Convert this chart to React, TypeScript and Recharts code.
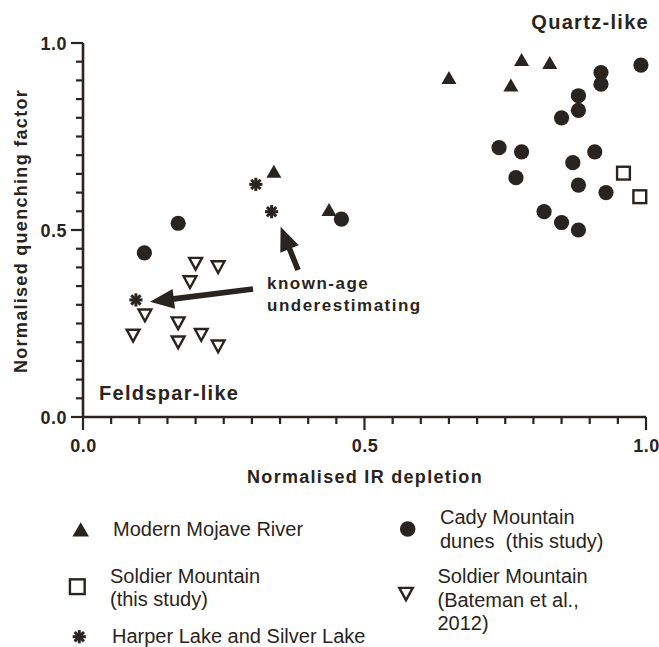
import React from "react";
import { ScatterChart, Scatter, XAxis, YAxis, ReferenceLine } from "recharts";

const INK = "#2a2420";
const FONT = "'Liberation Sans', Arial, sans-serif";

// tick positions (minor every 0.05, labelled at 0, 0.5, 1)
const TICKS = [0, 0.05, 0.1, 0.15, 0.2, 0.25, 0.3, 0.35, 0.4, 0.45, 0.5, 0.55, 0.6, 0.65, 0.7, 0.75, 0.8, 0.85, 0.9, 0.95, 1];
const MAJOR = [0, 0.5, 1];
const TICK_LABELS = ["0.0", "0.5", "1.0"];

// series
const mojave = [
  { x: 0.339, y: 0.657 },
  { x: 0.437, y: 0.555 },
  { x: 0.65, y: 0.908 },
  { x: 0.76, y: 0.888 },
  { x: 0.779, y: 0.956 },
  { x: 0.829, y: 0.948 },
];

const cady = [
  { x: 0.991, y: 0.941 },
  { x: 0.92, y: 0.921 },
  { x: 0.92, y: 0.89 },
  { x: 0.88, y: 0.859 },
  { x: 0.88, y: 0.82 },
  { x: 0.85, y: 0.8 },
  { x: 0.739, y: 0.72 },
  { x: 0.779, y: 0.709 },
  { x: 0.909, y: 0.709 },
  { x: 0.87, y: 0.68 },
  { x: 0.769, y: 0.64 },
  { x: 0.88, y: 0.62 },
  { x: 0.929, y: 0.6 },
  { x: 0.819, y: 0.549 },
  { x: 0.85, y: 0.52 },
  { x: 0.88, y: 0.5 },
  { x: 0.459, y: 0.529 },
  { x: 0.109, y: 0.439 },
  { x: 0.169, y: 0.518 },
];

const soldierThis = [
  { x: 0.96, y: 0.652 },
  { x: 0.989, y: 0.589 },
];

const harper = [
  { x: 0.307, y: 0.622 },
  { x: 0.335, y: 0.549 },
  { x: 0.094, y: 0.313 },
];

const bateman = [
  { x: 0.2, y: 0.411 },
  { x: 0.24, y: 0.402 },
  { x: 0.19, y: 0.362 },
  { x: 0.11, y: 0.273 },
  { x: 0.169, y: 0.252 },
  { x: 0.089, y: 0.219 },
  { x: 0.169, y: 0.201 },
  { x: 0.21, y: 0.221 },
  { x: 0.24, y: 0.19 },
];

// annotation arrows, data coords [tail, tip]
const arrows = [
  [{ x: 0.302, y: 0.342 }, { x: 0.119, y: 0.308 }],
  [{ x: 0.382, y: 0.393 }, { x: 0.351, y: 0.509 }],
];

function TriUp({ cx, cy, s = 1 }: any) {
  const w = 7.5 * s, h = 6.5 * s;
  return <polygon points={`${cx},${cy - h} ${cx + w},${cy + h} ${cx - w},${cy + h}`} fill={INK} />;
}
function Dot({ cx, cy, s = 1 }: any) {
  return <circle cx={cx} cy={cy} r={7.6 * s} fill={INK} />;
}
function Box({ cx, cy, s = 1 }: any) {
  const h = 6.4 * s;
  return <rect x={cx - h} y={cy - h} width={2 * h} height={2 * h} fill="#fff" stroke={INK} strokeWidth={2.4} />;
}
function TriDown({ cx, cy, s = 1 }: any) {
  const w = 6.4 * s, h = 5.4 * s;
  return (
    <polygon
      points={`${cx - w},${cy - h} ${cx + w},${cy - h} ${cx},${cy + h + 1}`}
      fill="#fff"
      stroke={INK}
      strokeWidth={2.4}
      strokeLinejoin="miter"
    />
  );
}
function Star({ cx, cy, s = 1 }: any) {
  const r = 6.6 * s, d = r * 0.707;
  return (
    <g stroke={INK} strokeWidth={3}>
      <line x1={cx} y1={cy - r} x2={cx} y2={cy + r} />
      <line x1={cx - r} y1={cy} x2={cx + r} y2={cy} />
      <line x1={cx - d} y1={cy - d} x2={cx + d} y2={cy + d} />
      <line x1={cx - d} y1={cy + d} x2={cx + d} y2={cy - d} />
    </g>
  );
}

function Arrow(props: any) {
  const { x1, y1, x2, y2 } = props;
  const dx = x2 - x1, dy = y2 - y1;
  const len = Math.sqrt(dx * dx + dy * dy) || 1;
  const ux = dx / len, uy = dy / len;
  const px = -uy, py = ux;
  const head = 24, hw = 10, sw = 2.8;
  const bx = x2 - ux * head, by = y2 - uy * head;
  const pts = [
    [x1 + px * sw, y1 + py * sw],
    [bx + px * sw, by + py * sw],
    [bx + px * hw, by + py * hw],
    [x2, y2],
    [bx - px * hw, by - py * hw],
    [bx - px * sw, by - py * sw],
    [x1 - px * sw, y1 - py * sw],
  ];
  return <polygon points={pts.map((p) => p.join(",")).join(" ")} fill={INK} />;
}

function XTick({ x, y, payload }: any) {
  const i = MAJOR.indexOf(payload.value);
  return (
    <g>
      <line x1={x} y1={y} x2={x} y2={y + (i >= 0 ? 13 : 7)} stroke={INK} strokeWidth={2.2} />
      {i >= 0 && (
        <text x={x + 0.6} y={y + 35} textAnchor="middle" fontFamily={FONT} fontWeight="bold" fontSize={18} letterSpacing={0.5} fill={INK}>
          {TICK_LABELS[i]}
        </text>
      )}
    </g>
  );
}

function YTick({ x, y, payload }: any) {
  const i = MAJOR.indexOf(payload.value);
  return (
    <g>
      <line x1={x} y1={y} x2={x - (i >= 0 ? 12 : 7)} y2={y} stroke={INK} strokeWidth={2.2} />
      {i >= 0 && (
        <text x={x - 16} y={y + 7} textAnchor="end" fontFamily={FONT} fontWeight="bold" fontSize={18} letterSpacing={0.5} fill={INK}>
          {TICK_LABELS[i]}
        </text>
      )}
    </g>
  );
}

const bold = { fontFamily: FONT, fontWeight: "bold" as const, fill: INK };
const reg = { fontFamily: FONT, fontSize: 20, fill: INK, style: { whiteSpace: "pre" as const } };

export default function App() {
  return (
    <div style={{ position: "absolute", left: 0, top: 0, width: 659, height: 647, overflow: "hidden", background: "#fff" }}>
      <div style={{ position: "absolute", left: 0, top: 0 }}>
        <ScatterChart width={659} height={460} margin={{ top: 43, right: 13, bottom: 13, left: 43 }}>
          <XAxis
            type="number"
            dataKey="x"
            domain={[0, 1]}
            ticks={TICKS}
            interval={0}
            height={30}
            tickSize={0}
            tickMargin={0}
            tickLine={false}
            axisLine={{ stroke: INK, strokeWidth: 2.6 }}
            tick={<XTick />}
          />
          <YAxis
            type="number"
            dataKey="y"
            domain={[0, 1]}
            ticks={TICKS}
            interval={0}
            width={40}
            tickSize={0}
            tickMargin={0}
            tickLine={false}
            axisLine={{ stroke: INK, strokeWidth: 2.6 }}
            tick={<YTick />}
          />
          <Scatter data={cady} isAnimationActive={false} shape={(p: any) => <Dot cx={p.cx} cy={p.cy} />} />
          <Scatter data={mojave} isAnimationActive={false} shape={(p: any) => <TriUp cx={p.cx} cy={p.cy} />} />
          <Scatter data={soldierThis} isAnimationActive={false} shape={(p: any) => <Box cx={p.cx} cy={p.cy} />} />
          <Scatter data={bateman} isAnimationActive={false} shape={(p: any) => <TriDown cx={p.cx} cy={p.cy} />} />
          <Scatter data={harper} isAnimationActive={false} shape={(p: any) => <Star cx={p.cx} cy={p.cy} />} />
          {arrows.map((seg, i) => (
            <ReferenceLine key={i} segment={seg} ifOverflow="visible" shape={Arrow} />
          ))}
        </ScatterChart>
      </div>
      <svg width={659} height={647} style={{ position: "absolute", left: 0, top: 0, pointerEvents: "none" }}>
        <text x={649} y={29} textAnchor="end" fontSize={20} letterSpacing={1.3} {...bold}>Quartz-like</text>
        <text x={99} y={400} fontSize={20} letterSpacing={1.3} {...bold}>Feldspar-like</text>
        <text x={267} y={288.5} fontSize={17} letterSpacing={1.5} {...bold}>known-age</text>
        <text x={267} y={311} fontSize={17} letterSpacing={1.5} {...bold}>underestimating</text>
        <text x={365} y={483} textAnchor="middle" fontSize={18} letterSpacing={1.3} {...bold}>Normalised IR depletion</text>
        <text x={26.5} y={231} textAnchor="middle" fontSize={18} letterSpacing={1.3} transform="rotate(-90 26.5 231)" {...bold}>
          Normalised quenching factor
        </text>

        <TriUp cx={80.7} cy={529.3} s={1.1} />
        <text x={113} y={536} {...reg}>Modern Mojave River</text>
        <Dot cx={407.7} cy={529} s={1.02} />
        <text x={440} y={524.3} {...reg}>Cady Mountain</text>
        <text x={440} y={548} {...reg}>dunes  (this study)</text>
        <Box cx={77.3} cy={586.7} s={1.15} />
        <text x={110} y={582.7} {...reg}>Soldier Mountain</text>
        <text x={110} y={606} {...reg}>(this study)</text>
        <TriDown cx={406} cy={593.5} s={1.05} />
        <text x={437.5} y={582.7} {...reg}>Soldier Mountain</text>
        <text x={437.5} y={606.5} {...reg}>(Bateman et al.,</text>
        <text x={437.5} y={630} {...reg}>2012)</text>
        <Star cx={79.3} cy={636.7} s={1.0} />
        <text x={112} y={643.3} {...reg}>Harper Lake and Silver Lake</text>
      </svg>
    </div>
  );
}
